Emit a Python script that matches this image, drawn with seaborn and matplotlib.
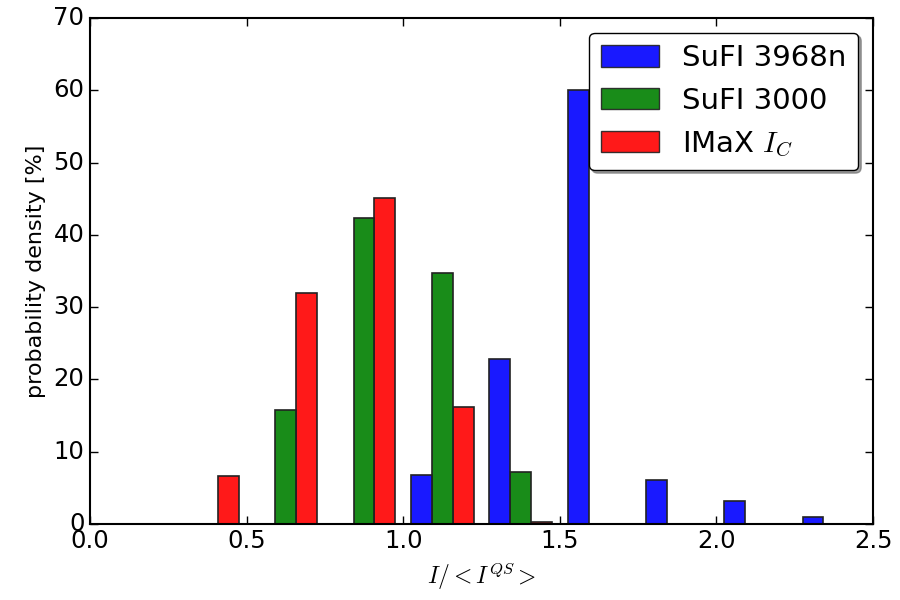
import matplotlib
matplotlib.use("Agg")
import numpy as np
import pandas as pd
import matplotlib.pyplot as plt
from matplotlib.patches import Patch
import seaborn as sns

# histogram bins of I/<I_QS> (probability per bin in %)
bin_edges = [0.25, 0.5, 0.75, 1.0, 1.25, 1.5, 1.75, 2.0, 2.25, 2.5]
sufi_3968 = [0.0, 0.0, 0.0, 6.8, 22.8, 60.1, 6.1, 3.2, 1.0]
sufi_3000 = [0.0, 15.8, 42.3, 34.7, 7.2, 0.0, 0.0, 0.0, 0.0]
imax_ic = [6.6, 31.9, 45.1, 16.1, 0.3, 0.0, 0.0, 0.0, 0.0]
series_names = ["SuFI 3968n", "SuFI 3000", "IMaX $I_C$"]
series_colors = ["blue", "green", "red"]

plt.style.use("classic")
plt.rcParams["mathtext.fontset"] = "cm"
plt.rcParams["font.family"] = ["DejaVu Sans"]

centers = [(a + b) / 2 for a, b in zip(bin_edges[:-1], bin_edges[1:])]
frames = []
for name, vals in zip(series_names, [sufi_3968, sufi_3000, imax_ic]):
    frames.append(pd.DataFrame({"x": centers, "w": vals, "series": name}))
df = pd.concat(frames, ignore_index=True)

fig = plt.figure(figsize=(9, 6), dpi=100)
ax = fig.add_axes([0.1, 0.127, 0.87, 0.843])
sns.histplot(data=df, x="x", weights="w", hue="series", hue_order=series_names,
             bins=bin_edges, multiple="dodge", shrink=0.8,
             palette=dict(zip(series_names, series_colors)), alpha=0.9,
             edgecolor="#222222", linewidth=1.2, legend=False, ax=ax)

ax.set_xlim(0, 2.5)
ax.set_ylim(0, 70)
ax.set_xticks(np.arange(0, 2.51, 0.5))
ax.set_yticks(np.arange(0, 71, 10))
ax.tick_params(labelsize=17.5, length=6, width=1, direction="in", top=True, right=True)
ax.set_xlabel("$I/<I^{QS}>$", fontsize=17)
ax.set_ylabel("probability density [%]", fontsize=16)
for sp in ax.spines.values():
    sp.set_linewidth(1.5)

handles = [Patch(facecolor=c, edgecolor="#222222", alpha=0.9) for c in series_colors]
ax.legend(handles, series_names, loc="upper right", fontsize=21, shadow=True,
          fancybox=True, borderaxespad=0.5, handleheight=0.75)

fig.savefig("out.png", dpi=100)
